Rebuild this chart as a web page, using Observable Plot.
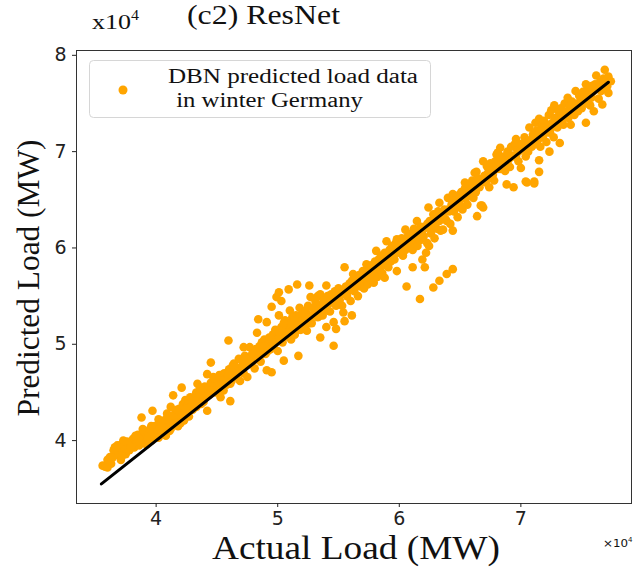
<!DOCTYPE html>
<html><head><meta charset="utf-8">
<script src="https://cdn.jsdelivr.net/npm/d3@7"></script>
<script src="https://cdn.jsdelivr.net/npm/@observablehq/plot@0.6"></script>
<style>body{margin:0;background:#fff} #chart{width:634px;height:567px}</style>
</head><body><div id="chart"></div>
<script>
// Values in units of 10^4 MW: [actual load, predicted load]
const load36to40 = [[3.56,3.74],[3.58,3.73],[3.60,3.80],[3.62,3.83],[3.63,3.76],[3.65,3.90],[3.66,3.93],[3.67,3.85],[3.69,3.88],[3.70,3.95],[3.71,3.80],[3.72,3.90],[3.73,4.00],[3.74,3.93],[3.75,3.86],[3.77,3.96],[3.78,3.90],[3.80,3.97],[3.81,4.02],[3.82,3.93],[3.84,3.98],[3.85,4.06],[3.86,3.95],[3.88,4.24],[3.88,4.02],[3.90,4.00],[3.91,4.08],[3.92,3.96],[3.94,4.05],[3.95,4.12],[3.96,4.00],[3.97,4.31],[3.98,4.08],[3.99,4.15],
  [3.60,3.72],[3.64,3.82],[3.68,3.95],[3.72,3.84],[3.76,3.99],[3.79,3.93],[3.83,4.05],[3.87,3.98],[3.89,4.12],[3.93,4.02],[3.96,4.15],[3.99,4.05]];
const load40to45 = [[4.01,4.10],[4.02,4.03],[4.03,4.14],[4.04,4.20],[4.05,4.08],[4.06,4.17],[4.07,4.12],[4.08,4.05],[4.09,4.28],[4.10,4.18],[4.11,4.22],[4.12,4.35],[4.12,4.12],[4.13,4.25],[4.14,4.47],[4.15,4.20],[4.16,4.30],[4.17,4.24],[4.18,4.15],[4.19,4.33],[4.20,4.27],[4.21,4.55],[4.22,4.38],[4.23,4.21],[4.23,4.30],[4.24,4.42],[4.25,4.35],[4.26,4.28],[4.27,4.40],[4.28,4.45],[4.29,4.36],[4.30,4.32],[4.31,4.45],[4.32,4.40],[4.33,4.50],[4.34,4.59],[4.35,4.42],[4.36,4.48],[4.37,4.38],[4.38,4.52],[4.39,4.45],[4.40,4.56],[4.41,4.50],[4.42,4.31],[4.42,4.69],[4.43,4.55],[4.44,4.48],[4.45,4.81],[4.45,4.60],[4.46,4.53],[4.47,4.66],[4.48,4.58],[4.49,4.50],[4.50,4.62],
  [4.02,4.22],[4.05,4.15],[4.08,4.22],[4.11,4.10],[4.14,4.26],[4.17,4.32],[4.20,4.18],[4.24,4.33],[4.27,4.25],[4.30,4.40],[4.33,4.35],[4.36,4.55],[4.39,4.40],[4.42,4.47],[4.45,4.52],[4.48,4.65]];
const load45to50 = [[4.51,4.55],[4.52,4.68],[4.53,4.45],[4.54,4.62],[4.555,4.52],[4.56,4.70],[4.57,4.63],[4.58,4.58],[4.595,5.04],[4.60,4.74],[4.61,4.41],[4.61,4.59],[4.62,4.68],[4.63,4.78],[4.64,4.80],[4.65,4.66],[4.66,4.76],[4.67,4.70],[4.68,4.85],[4.69,4.62],[4.70,4.75],[4.71,4.82],[4.72,4.97],[4.72,4.70],[4.73,4.88],[4.74,4.78],[4.75,4.66],[4.76,4.85],[4.77,4.97],[4.78,4.80],[4.79,4.90],[4.80,4.83],[4.81,4.75],[4.82,4.95],[4.83,5.12],[4.84,5.26],[4.84,4.88],[4.85,4.98],[4.86,4.82],[4.87,5.02],[4.88,4.93],[4.89,5.05],[4.90,4.90],[4.91,5.23],[4.91,4.73],[4.92,5.00],[4.93,5.07],[4.94,4.95],[4.95,5.39],[4.95,4.71],[4.96,5.10],[4.97,5.00],[4.98,5.15],[4.99,5.49],[4.99,5.05],
  [4.53,4.58],[4.56,4.62],[4.59,4.68],[4.62,4.62],[4.65,4.75],[4.68,4.72],[4.71,4.76],[4.74,4.85],[4.77,4.82],[4.80,4.90],[4.83,4.85],[4.86,4.92],[4.89,4.98],[4.92,4.93],[4.95,5.05],[4.98,5.02]];
const load50to55 = [[5.00,4.93],[5.01,5.54],[5.01,5.30],[5.02,5.10],[5.03,5.45],[5.03,5.18],[5.04,5.02],[5.05,4.83],[5.05,5.14],[5.06,5.25],[5.07,5.08],[5.08,5.20],[5.09,5.57],[5.10,5.35],[5.10,5.15],[5.11,5.05],[5.12,5.28],[5.13,5.18],[5.14,5.10],[5.15,5.30],[5.16,5.62],[5.17,4.88],[5.17,5.22],[5.18,5.38],[5.18,5.28],[5.19,5.15],[5.20,5.32],[5.21,5.25],[5.22,5.18],[5.23,5.35],[5.24,5.14],[5.25,5.40],[5.26,5.61],[5.26,5.30],[5.27,5.49],[5.28,5.22],[5.29,5.38],[5.30,5.32],[5.31,5.45],[5.32,5.42],[5.33,5.50],[5.33,5.28],[5.34,5.36],[5.35,5.07],[5.35,5.52],[5.36,5.40],[5.37,5.30],[5.38,5.46],[5.39,5.38],[5.40,5.18],[5.40,5.61],[5.41,5.50],[5.42,5.42],[5.43,5.34],[5.44,5.52],[5.45,5.45],[5.46,4.985],[5.46,5.23],[5.47,5.55],[5.48,5.16],[5.48,5.40],[5.49,5.50],
  [5.02,5.05],[5.05,5.22],[5.08,5.12],[5.11,5.22],[5.14,5.25],[5.17,5.15],[5.20,5.25],[5.23,5.28],[5.26,5.22],[5.29,5.30],[5.32,5.35],[5.35,5.30],[5.38,5.40],[5.41,5.35],[5.44,5.45],[5.47,5.48]];
const load55to60 = [[5.50,5.58],[5.51,5.46],[5.52,5.52],[5.53,5.40],[5.54,5.33],[5.55,5.80],[5.55,5.24],[5.56,5.60],[5.57,5.50],[5.58,5.56],[5.59,5.63],[5.60,5.45],[5.61,5.30],[5.61,5.66],[5.62,5.73],[5.63,5.55],[5.64,5.62],[5.65,5.68],[5.66,5.50],[5.67,5.72],[5.68,5.60],[5.69,5.66],[5.70,5.76],[5.71,5.58],[5.72,5.70],[5.73,5.83],[5.73,5.73],[5.74,5.62],[5.75,5.78],[5.76,5.68],[5.77,5.82],[5.78,5.72],[5.79,5.64],[5.80,5.86],[5.81,5.97],[5.81,5.78],[5.82,5.70],[5.83,5.88],[5.84,5.80],[5.85,5.92],[5.86,5.74],[5.87,5.87],[5.88,5.69],[5.88,5.95],[5.89,5.82],[5.895,6.07],[5.90,5.90],[5.91,5.80],[5.92,5.98],[5.93,5.86],[5.94,6.02],[5.95,5.97],[5.96,5.88],[5.97,6.05],[5.98,6.09],[5.98,5.76],[5.99,5.95],
  [5.50,5.50],[5.53,5.55],[5.56,5.52],[5.59,5.58],[5.62,5.60],[5.65,5.62],[5.68,5.70],[5.71,5.68],[5.74,5.75],[5.77,5.74],[5.80,5.80],[5.83,5.82],[5.86,5.85],[5.89,5.90],[5.92,5.90],[5.95,5.94],[5.98,6.00]];
const load60to65 = [[6.00,6.02],[6.01,5.97],[6.02,6.10],[6.03,5.92],[6.04,6.06],[6.05,6.19],[6.05,5.98],[6.06,5.60],[6.07,6.12],[6.08,6.02],[6.09,6.07],[6.10,6.15],[6.11,5.80],[6.11,5.98],[6.12,6.20],[6.13,6.08],[6.14,6.02],[6.145,6.28],[6.15,6.02],[6.16,6.14],[6.17,5.47],[6.17,6.08],[6.18,6.22],[6.19,5.88],[6.20,6.12],[6.21,5.80],[6.22,6.21],[6.22,5.95],[6.23,6.05],[6.24,6.42],[6.245,6.02],[6.25,6.28],[6.26,6.15],[6.27,6.22],[6.28,5.59],[6.28,6.35],[6.29,6.10],[6.30,6.28],[6.31,6.20],[6.32,6.38],[6.33,5.66],[6.33,6.47],[6.33,6.28],[6.34,6.18],[6.35,6.32],[6.36,6.19],[6.37,6.40],[6.38,6.30],[6.39,5.73],[6.39,6.28],[6.40,6.52],[6.41,6.38],[6.42,6.25],[6.43,6.45],[6.44,5.78],[6.44,6.56],[6.44,6.18],[6.45,6.38],[6.46,6.50],[6.47,6.42],[6.47,6.49],[6.48,6.32],[6.49,6.55],
  [6.02,6.04],[6.06,6.08],[6.09,6.12],[6.13,6.14],[6.16,6.20],[6.19,6.18],[6.23,6.25],[6.26,6.24],[6.29,6.30],[6.32,6.32],[6.36,6.35],[6.40,6.40],[6.43,6.40],[6.46,6.45]];
const load65to70 = [[6.50,6.45],[6.51,6.58],[6.52,6.40],[6.53,6.52],[6.54,6.68],[6.54,6.62],[6.55,6.52],[6.56,6.45],[6.57,6.60],[6.58,6.66],[6.59,6.55],[6.60,6.70],[6.61,6.52],[6.61,6.63],[6.62,6.78],[6.63,6.65],[6.635,6.79],[6.64,6.33],[6.65,6.72],[6.66,6.63],[6.67,6.44],[6.68,6.44],[6.69,6.42],[6.69,6.90],[6.70,6.75],[6.71,6.68],[6.72,6.85],[6.73,6.78],[6.74,6.63],[6.74,6.74],[6.75,6.88],[6.76,6.80],[6.77,6.76],[6.78,6.70],[6.79,6.90],[6.80,6.97],[6.81,6.99],[6.81,6.82],[6.82,6.92],[6.83,7.04],[6.84,6.86],[6.85,6.87],[6.86,6.95],[6.87,6.80],[6.88,6.90],[6.883,6.66],[6.89,7.00],[6.90,6.92],[6.91,6.84],[6.92,7.05],[6.93,6.96],[6.94,6.63],[6.95,7.08],[6.96,7.13],[6.96,6.95],[6.97,7.02],[6.98,6.90],[6.99,7.08],
  [6.50,6.52],[6.53,6.56],[6.56,6.58],[6.60,6.62],[6.63,6.58],[6.66,6.70],[6.70,6.70],[6.73,6.72],[6.76,6.75],[6.80,6.85],[6.83,6.82],[6.86,6.88],[6.90,6.97],[6.94,6.95],[6.98,7.00]];
const load70to78 = [[7.00,6.83],[7.00,7.02],[7.02,7.04],[7.03,7.15],[7.04,6.69],[7.04,6.95],[7.05,6.68],[7.05,7.10],[7.06,7.00],[7.07,7.25],[7.08,7.12],[7.09,7.05],[7.10,7.18],[7.11,6.69],[7.11,6.67],[7.12,7.30],[7.12,7.08],[7.13,7.22],[7.14,7.12],[7.15,7.20],[7.15,7.34],[7.15,6.91],[7.15,6.79],[7.16,7.05],[7.17,7.26],[7.18,7.15],[7.19,7.32],[7.20,7.22],[7.21,7.10],[7.22,7.28],[7.23,7.38],[7.235,7.00],[7.24,7.20],[7.25,7.43],[7.26,7.30],[7.27,7.15],[7.275,7.48],[7.28,7.35],[7.29,7.35],[7.30,7.25],[7.31,7.42],[7.32,7.09],[7.32,7.32],[7.33,7.45],[7.34,7.38],[7.35,7.28],[7.36,7.50],[7.37,7.40],[7.385,7.56],[7.39,7.35],[7.40,7.47],[7.41,7.28],[7.42,7.52],[7.43,7.46],[7.44,7.38],[7.45,7.63],[7.46,7.50],[7.47,7.42],[7.48,7.58],[7.49,7.52],[7.50,7.45],[7.51,7.62],[7.52,7.56],[7.535,7.70],[7.535,7.30],[7.54,7.50],[7.55,7.63],[7.56,7.58],[7.565,7.60],[7.57,7.48],[7.58,7.68],[7.59,7.62],[7.60,7.42],[7.61,7.70],[7.62,7.79],[7.63,7.65],[7.64,7.55],[7.65,7.72],[7.66,7.68],[7.67,7.49],[7.68,7.76],[7.69,7.85],[7.70,7.74],[7.71,7.68],[7.72,7.61],[7.72,7.78],[7.74,7.73],
  [7.02,7.08],[7.06,7.08],[7.10,7.12],[7.14,7.15],[7.18,7.22],[7.22,7.20],[7.26,7.26],[7.30,7.32],[7.34,7.33],[7.38,7.42],[7.42,7.40],[7.46,7.45],[7.50,7.52],[7.54,7.56],[7.58,7.56],[7.62,7.65],[7.66,7.63],[7.70,7.70]];

const fitActual = [3.55, 7.72];
const fitPredicted = [3.55, 7.72];
const xTicks = [4, 5, 6, 7];
const yTicks = [4, 5, 6, 7, 8];
const titleText = "(c2) ResNet";
const xLabel = "Actual Load (MW)";
const yLabel = "Predicted Load (MW)";
const legendLines = ["DBN predicted load data", " in winter Germany"];

const points = [...load36to40, ...load40to45, ...load45to50, ...load50to55, ...load55to60, ...load60to65, ...load65to70, ...load70to78]
  .map(([a, p]) => ({actual: a, predicted: p}));
const fit = fitActual.map((a, i) => ({actual: a, predicted: fitPredicted[i]}));

const ORANGE = "#FFA500";
const plot = Plot.plot({
  width: 634, height: 567,
  marginLeft: 76, marginTop: 50, marginRight: 3, marginBottom: 64,
  x: {domain: [3.345, 7.91]},
  y: {domain: [3.347, 8.05]},
  style: {fontFamily: "DejaVu Sans, sans-serif", fontSize: "19px", color: "#222", background: "white"},
  marks: [
    Plot.frame({stroke: "#333", strokeWidth: 1}),
    Plot.axisX({ticks: xTicks, tickSize: 4, tickPadding: 4, label: null, tickFormat: d => String(d), fontSize: 19}),
    Plot.axisY({ticks: yTicks, tickSize: 4, tickPadding: 6, label: null, tickFormat: d => String(d), fontSize: 19}),
    Plot.dot(points, {x: "actual", y: "predicted", r: 4.3, fill: ORANGE, stroke: "none"}),
    Plot.line(fit, {x: "actual", y: "predicted", stroke: "black", strokeWidth: 3})
  ]
});
document.getElementById("chart").appendChild(plot);

const svg = d3.select(plot);
const SERIF = "Liberation Serif, Times New Roman, serif";
function txt(x, y, s, size, family, len, anchor) {
  const t = svg.append("text").attr("x", x).attr("y", y).text(s)
    .attr("font-family", family).attr("font-size", size).attr("fill", "#111")
    .attr("text-anchor", anchor || "start")
    .attr("xml:space", "preserve").style("white-space", "pre");
  if (len) t.attr("textLength", len).attr("lengthAdjust", "spacingAndGlyphs");
  return t;
}
// Title and exponent labels
txt(187, 24, titleText, 27, SERIF, 153);
txt(92, 29, "x10", 21, SERIF, 39);
txt(131, 20, "4", 14, SERIF, 8);
txt(603, 547, "\u00d710", 10, "DejaVu Sans, sans-serif", 25);
txt(628, 542, "4", 7, "DejaVu Sans, sans-serif", null);
// Axis titles
txt(212, 559, xLabel, 34, SERIF, 288);
txt(0, 0, yLabel, 32, SERIF, 277, "middle").attr("transform", "translate(39,278) rotate(-90)");
// Legend
svg.append("rect").attr("x", 89.5).attr("y", 60.5).attr("width", 341).attr("height", 57)
  .attr("rx", 4).attr("fill", "white").attr("fill-opacity", 0.85).attr("stroke", "#d6d6d6");
svg.append("circle").attr("cx", 123).attr("cy", 90).attr("r", 4.5).attr("fill", ORANGE);
txt(168, 83, legendLines[0], 20, SERIF, 250);
txt(170, 107, legendLines[1], 20, SERIF, 193);
</script>
</body></html>
